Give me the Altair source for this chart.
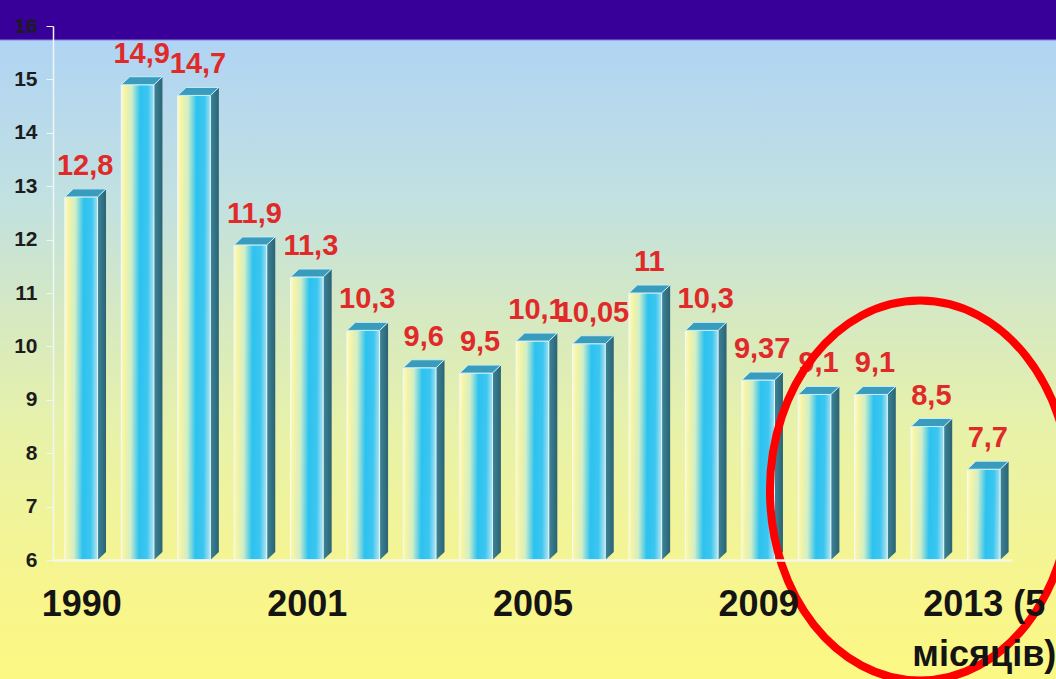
import json
import altair as alt
import pandas as pd

# Annual values, 1990 .. 2013 (first five months)
values = [12.8, 14.9, 14.7, 11.9, 11.3, 10.3, 9.6, 9.5, 10.1, 10.05, 11, 10.3, 9.37, 9.1, 9.1, 8.5, 7.7]
tick_positions = [0, 4, 8, 12, 16]
tick_labels = ["1990", "2001", "2005", "2009", "2013 (5\nмісяців)"]
y_ticks = [6, 7, 8, 9, 10, 11, 12, 13, 14, 15, 16]

Y_MIN, Y_MAX = 6, 16
W, H = 959, 534
PAD = {"left": 53, "top": 26, "right": 44, "bottom": 119}

HALF = 0.29      # half width of the front face, in bar units
DX = 0.15        # depth offset to the right, in bar units
DY = 0.15        # depth offset upward, in value units

bars = pd.DataFrame({
    "bar": list(range(len(values))),
    "value": values,
})
bars["lo"] = bars["bar"] - HALF
bars["hi"] = bars["bar"] + HALF
bars["base"] = Y_MIN
bars["label"] = [f"{v:g}".replace(".", ",") for v in values]

# right-hand side face of every bar (parallelogram with vertical edges)
side_rows = []
for b, v in zip(bars["bar"], bars["value"]):
    side_rows.append({"bar": b, "x": b + HALF, "y": v, "y2": Y_MIN})
    side_rows.append({"bar": b, "x": b + HALF + DX, "y": v + DY, "y2": Y_MIN + DY})
side = pd.DataFrame(side_rows)

# top face of every bar (parallelogram with horizontal edges)
top_rows = []
for b, v in zip(bars["bar"], bars["value"]):
    top_rows.append({"bar": b, "x": b - HALF, "y": v, "y2": v})
    top_rows.append({"bar": b, "x": b - HALF + DX, "y": v + DY, "y2": v})
    top_rows.append({"bar": b, "x": b + HALF, "y": v + DY, "y2": v})
    top_rows.append({"bar": b, "x": b + HALF + DX, "y": v + DY, "y2": v + DY})
top = pd.DataFrame(top_rows)

highlight = pd.DataFrame({"x": [14.87], "y": [7.3]})
one = pd.DataFrame({"k": [0]})

x_dom = [-0.5, len(values) - 0.5]
xs = alt.Scale(domain=x_dom, nice=False, zero=False)
ys = alt.Scale(domain=[Y_MIN, Y_MAX], nice=False, zero=False)

label_expr = "{}[indexof({}, datum.value)]".format(
    json.dumps([t.split("\n") for t in tick_labels], ensure_ascii=False),
    json.dumps(tick_positions),
)

x_axis = alt.Axis(
    values=tick_positions, labelExpr=label_expr, ticks=False, grid=False,
    labelFont="Liberation Sans", labelFontSize=36, labelFontWeight="bold",
    labelColor="#141414", labelPadding=27, labelLineHeight=50,
    labelOverlap=False, labelFlush=False, labelBound=False,
    domainColor="#f4f9e6", domainWidth=2.5, zindex=1, title=None,
)
y_axis = alt.Axis(
    values=y_ticks, format="d", grid=False,
    labelFont="Liberation Sans", labelFontSize=21, labelFontWeight="bold",
    labelColor="#1c1c1c", labelPadding=9, tickSize=7, tickColor="#eef6f6",
    domainColor="#eef6f6", domainWidth=1.5, labelOverlap=False, zindex=1, title=None,
)

# page background: blue at the top fading to yellow at the bottom
bg = alt.Chart(one).mark_rect(
    fill=alt.Gradient(
        gradient="linear", x1=0, y1=0, x2=0, y2=1,
        stops=[
            alt.GradientStop(offset=0.0, color="#b0d4f4"),
            alt.GradientStop(offset=0.06, color="#b0d4f4"),
            alt.GradientStop(offset=0.30, color="#c2e1e0"),
            alt.GradientStop(offset=0.45, color="#d4e8c4"),
            alt.GradientStop(offset=0.64, color="#e8f2a8"),
            alt.GradientStop(offset=0.88, color="#f8f58c"),
            alt.GradientStop(offset=1.0, color="#fbf884"),
        ],
    )
).encode(
    x=alt.value(-PAD["left"]), x2=alt.value(W + PAD["right"]),
    y=alt.value(-PAD["top"]), y2=alt.value(H + PAD["bottom"]),
)

band = alt.Chart(one).mark_rect(fill="#380098", stroke="#8a84d8", strokeWidth=1).encode(
    x=alt.value(-PAD["left"] - 2), x2=alt.value(W + PAD["right"] + 2),
    y=alt.value(-PAD["top"] - 2), y2=alt.value(14),
)

side_layer = alt.Chart(side).mark_area(
    orient="vertical",
    fill=alt.Gradient(
        gradient="linear", x1=0, y1=0, x2=1, y2=0,
        stops=[
            alt.GradientStop(offset=0, color="#3d8598"),
            alt.GradientStop(offset=1, color="#2a6374"),
        ],
    ),
).encode(
    x=alt.X("x:Q", scale=xs, axis=x_axis),
    y=alt.Y("y:Q", scale=ys, axis=y_axis, stack=None),
    y2="y2:Q",
    detail="bar:N",
)

front = alt.Chart(bars).mark_rect(
    stroke="#f2fcff", strokeWidth=1, strokeOpacity=0.85,
    fill=alt.Gradient(
        gradient="linear", x1=0, y1=0, x2=1, y2=0.04,
        stops=[
            alt.GradientStop(offset=0.0, color="#fbfad0"),
            alt.GradientStop(offset=0.12, color="#f6f4a2"),
            alt.GradientStop(offset=0.32, color="#d0eec8"),
            alt.GradientStop(offset=0.58, color="#2cc2f0"),
            alt.GradientStop(offset=0.82, color="#3cc6f0"),
            alt.GradientStop(offset=1.0, color="#a4e0f0"),
        ],
    ),
).encode(
    x=alt.X("lo:Q", scale=xs, axis=x_axis),
    x2="hi:Q",
    y=alt.Y("value:Q", scale=ys, axis=y_axis),
    y2="base:Q",
)

top_layer = alt.Chart(top).mark_area(
    orient="vertical",
    fill="#3a9cbc", stroke="#c8eef8", strokeWidth=1,
).encode(
    x=alt.X("x:Q", scale=xs, axis=x_axis),
    y=alt.Y("y:Q", scale=ys, axis=y_axis, stack=None),
    y2="y2:Q",
    detail="bar:N",
)

labels = alt.Chart(bars).mark_text(
    font="Liberation Sans", fontSize=29, fontWeight="bold", color="#e02a2a",
    baseline="middle", align="center", dy=-31, dx=4,
).encode(
    x=alt.X("bar:Q", scale=xs, axis=x_axis),
    y=alt.Y("value:Q", scale=ys, axis=y_axis),
    text="label:N",
)

# ellipse drawn with cubic curves inside the unit square
k = 0.5523
rx = 0.79
ellipse_path = (
    f"M 0,-1 C {rx*k:.3f},-1 {rx},{-k} {rx},0 "
    f"C {rx},{k} {rx*k:.3f},1 0,1 "
    f"C {-rx*k:.3f},1 {-rx},{k} {-rx},0 "
    f"C {-rx},{-k} {-rx*k:.3f},-1 0,-1 Z"
)
ring = alt.Chart(highlight).mark_point(
    shape=ellipse_path, size=380 * 380, filled=False,
    stroke="#ff0000", strokeWidth=8, opacity=1,
).encode(
    x=alt.X("x:Q", scale=xs, axis=x_axis),
    y=alt.Y("y:Q", scale=ys, axis=y_axis),
)

chart = alt.layer(bg, band, side_layer, front, top_layer, labels, ring).properties(
    width=W, height=H,
    autosize=alt.AutoSizeParams(type="none"),
    padding=PAD,
    background="#fbf884",
).configure_view(strokeWidth=0)

chart.save("out.html", embed_options={"renderer": "svg", "actions": False})
